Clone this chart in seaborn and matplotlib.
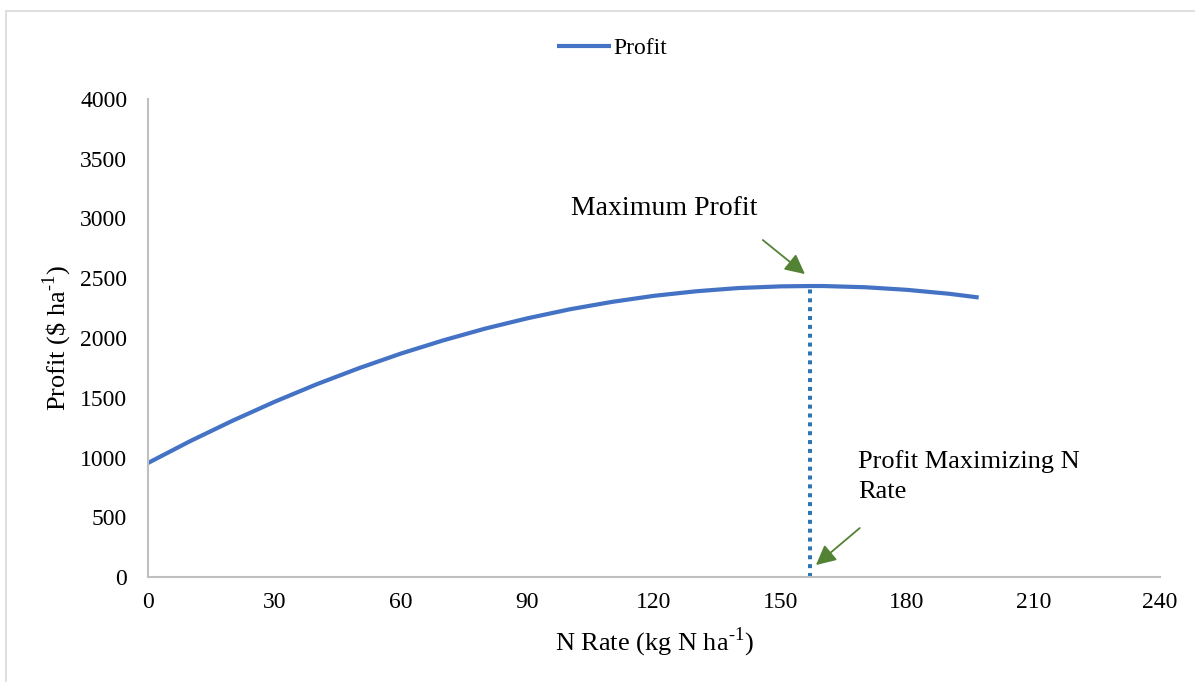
import matplotlib
matplotlib.use("Agg")
import matplotlib.pyplot as plt
from matplotlib.lines import Line2D
import seaborn as sns
import pandas as pd

# Profit response to nitrogen rate
n_rate = [0, 10, 20, 30, 40, 50, 60, 70, 80, 90, 100, 110, 120, 130, 140, 150, 157, 160, 170, 180, 190, 197]
profit = [954, 1137, 1307, 1466, 1613, 1747, 1870, 1980, 2079, 2165, 2240, 2302, 2353, 2391, 2418, 2432, 2435,
          2435, 2425, 2403, 2370, 2339]

# Profit-maximizing point
opt_rate = 157
max_profit = 2435

x_ticks = [0, 30, 60, 90, 120, 150, 180, 210, 240]
y_ticks = [0, 500, 1000, 1500, 2000, 2500, 3000, 3500, 4000]

sns.set_theme(style="white")
plt.rcParams["font.family"] = ["Liberation Serif", "DejaVu Serif"]
plt.rcParams["mathtext.fontset"] = "custom"
plt.rcParams["mathtext.rm"] = "Liberation Serif"
plt.rcParams["text.color"] = "black"
plt.rcParams["axes.labelcolor"] = "black"

W, H = 1195, 682
fig = plt.figure(figsize=(W / 100, H / 100), dpi=100)
ax = fig.add_axes([148 / W, 1 - 577 / H, (1160 - 148) / W, (577 - 99) / H])

df = pd.DataFrame({"N Rate": n_rate, "Profit": profit})
sns.lineplot(data=df, x="N Rate", y="Profit", ax=ax, color="#4472C4", linewidth=3,
             label="Profit", solid_capstyle="butt")

# dotted drop line at the optimum rate
ax.plot([opt_rate, opt_rate], [0, max_profit], color="#2E75B6", linewidth=2.9,
        linestyle=(0, (1, 1.2)), dash_capstyle="butt")

ax.set_xlim(0, 240)
ax.set_ylim(0, 4000)
ax.set_xticks(x_ticks)
ax.set_yticks(y_ticks)
ax.tick_params(axis="both", length=0, labelsize=17, colors="black")
ax.tick_params(axis="y", pad=15)
ax.tick_params(axis="x", pad=11)

for side in ["top", "right"]:
    ax.spines[side].set_visible(False)
for side in ["left", "bottom"]:
    ax.spines[side].set_color("#BFBFBF")
    ax.spines[side].set_linewidth(1.5)

ax.set_xlabel(r"N Rate (kg N ha$^{\text{-1}}$)", fontsize=19, labelpad=9)
ax.set_ylabel(r"Profit (\$ ha$^{\text{-1}}$)", fontsize=19, labelpad=4)

green = "#548235"
arrow_style = dict(arrowstyle="-|>,head_length=1.0,head_width=0.5", color=green, lw=1.3,
                   shrinkA=0, shrinkB=0)
ax.annotate("", xy=(155.8, 2535), xytext=(145.8, 2820), arrowprops=arrow_style)
ax.annotate("", xy=(158.4, 100), xytext=(168.8, 410), arrowprops=arrow_style)

ax.text(100.3, 3080, "Maximum Profit", fontsize=20, ha="left", va="center")
ax.text(168.4, 1060, "Profit Maximizing N\nRate", fontsize=19, ha="left", va="top",
        linespacing=1.45)

leg = ax.legend(loc="center", bbox_to_anchor=(612 / W, 1 - 48 / H), bbox_transform=fig.transFigure,
                frameon=False, fontsize=17, handlelength=2.3, handletextpad=0.1)

# outer chart border
fig.add_artist(Line2D([6 / W, 1], [1 - 11 / H, 1 - 11 / H], transform=fig.transFigure,
                      color="#D9D9D9", linewidth=1.2))
fig.add_artist(Line2D([6 / W, 6 / W], [0, 1 - 11 / H], transform=fig.transFigure,
                      color="#D9D9D9", linewidth=1.2))

fig.savefig("out.png", dpi=100, facecolor="white")
